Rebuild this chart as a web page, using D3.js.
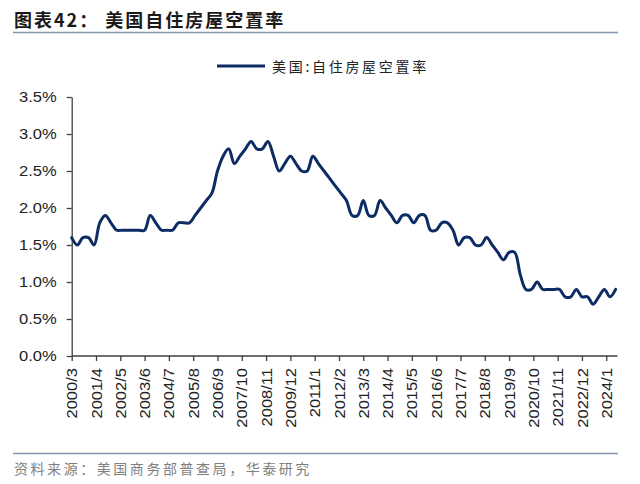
<!DOCTYPE html>
<html>
<head>
<meta charset="utf-8">
<script src="https://cdn.jsdelivr.net/npm/d3@7"></script>
<style>
  html, body { margin: 0; padding: 0; background: #ffffff; }
  svg { display: block; }
</style>
</head>
<body>
<div id="chart"></div>
<script>
// ---------------- data ----------------
const titleText = "图表42： 美国自住房屋空置率";
const seriesName = "美国:自住房屋空置率";
const sourceText = "资料来源：美国商务部普查局，华泰研究";

const periods = [
  "2000/3","2000/6","2000/9","2000/12",
  "2001/3","2001/6","2001/9","2001/12",
  "2002/3","2002/6","2002/9","2002/12",
  "2003/3","2003/6","2003/9","2003/12",
  "2004/3","2004/6","2004/9","2004/12",
  "2005/3","2005/6","2005/9","2005/12",
  "2006/3","2006/6","2006/9","2006/12",
  "2007/3","2007/6","2007/9","2007/12",
  "2008/3","2008/6","2008/9","2008/12",
  "2009/3","2009/6","2009/9","2009/12",
  "2010/3","2010/6","2010/9","2010/12",
  "2011/3","2011/6","2011/9","2011/12",
  "2012/3","2012/6","2012/9","2012/12",
  "2013/3","2013/6","2013/9","2013/12",
  "2014/3","2014/6","2014/9","2014/12",
  "2015/3","2015/6","2015/9","2015/12",
  "2016/3","2016/6","2016/9","2016/12",
  "2017/3","2017/6","2017/9","2017/12",
  "2018/3","2018/6","2018/9","2018/12",
  "2019/3","2019/6","2019/9","2019/12",
  "2020/3","2020/6","2020/9","2020/12",
  "2021/3","2021/6","2021/9","2021/12",
  "2022/3","2022/6","2022/9","2022/12",
  "2023/3","2023/6","2023/9","2023/12",
  "2024/3","2024/6"
];

const vacancyRate = [
  1.6, 1.5, 1.6, 1.6,
  1.5, 1.8, 1.9, 1.8,
  1.7, 1.7, 1.7, 1.7,
  1.7, 1.7, 1.9, 1.8,
  1.7, 1.7, 1.7, 1.8,
  1.8, 1.8, 1.9, 2.0,
  2.1, 2.2, 2.5, 2.7,
  2.8, 2.6, 2.7, 2.8,
  2.9, 2.8, 2.8, 2.9,
  2.7, 2.5, 2.6, 2.7,
  2.6, 2.5, 2.5, 2.7,
  2.6, 2.5, 2.4, 2.3,
  2.2, 2.1, 1.9, 1.9,
  2.1, 1.9, 1.9, 2.1,
  2.0, 1.9, 1.8, 1.9,
  1.9, 1.8, 1.9, 1.9,
  1.7, 1.7, 1.8, 1.8,
  1.7, 1.5, 1.6, 1.6,
  1.5, 1.5, 1.6, 1.5,
  1.4, 1.3, 1.4, 1.4,
  1.1, 0.9, 0.9, 1.0,
  0.9, 0.9, 0.9, 0.9,
  0.8, 0.8, 0.9, 0.8,
  0.8, 0.7, 0.8, 0.9,
  0.8, 0.9
];

const xTickLabels = [
  "2000/3","2001/4","2002/5","2003/6","2004/7","2005/8","2006/9","2007/10",
  "2008/11","2009/12","2011/1","2012/2","2013/3","2014/4","2015/5","2016/6",
  "2017/7","2018/8","2019/9","2020/10","2021/11","2022/12","2024/1"
];

const yTicks = [0, 0.5, 1.0, 1.5, 2.0, 2.5, 3.0, 3.5];

// ---------------- layout ----------------
const W = 640, H = 484;
const plot = { left: 71.7, right: 615.6, axisEnd: 617.5, top: 97, bottom: 356 };
const lineColor = "#0c2c63";
const ruleColor = "#8497b0";
const axisColor = "#404040";
const textColor = "#222222";
const latin = "'Liberation Sans', Arial, Helvetica, sans-serif";
const cjk = "'Noto Sans CJK SC', 'Noto Sans', sans-serif";
const stretch = 1.18;

// month index relative to the first period
const monthIndex = s => {
  const [yy, mm] = s.split("/").map(Number);
  return (yy - 2000) * 12 + (mm - 3);
};

const data = periods.map((p, i) => ({ idx: monthIndex(p), v: vacancyRate[i] }));

const svg = d3.select("#chart").append("svg")
  .attr("width", W).attr("height", H)
  .attr("viewBox", `0 0 ${W} ${H}`);

svg.append("rect").attr("width", W).attr("height", H).attr("fill", "#ffffff");

// title
svg.append("text")
  .attr("x", 14).attr("y", 27)
  .attr("font-family", cjk).attr("font-weight", 700)
  .attr("font-size", 18).attr("letter-spacing", 2.0)
  .attr("fill", "#1a1a1a")
  .style("white-space", "pre")
  .text(titleText);

svg.append("line")
  .attr("x1", 13).attr("x2", 618).attr("y1", 32.5).attr("y2", 32.5)
  .attr("stroke", ruleColor).attr("stroke-width", 1.5);

// legend
svg.append("line")
  .attr("x1", 217).attr("x2", 265).attr("y1", 66).attr("y2", 66)
  .attr("stroke", lineColor).attr("stroke-width", 3);
svg.append("text")
  .attr("x", 272).attr("y", 71.5)
  .attr("font-family", cjk).attr("font-size", 14).attr("letter-spacing", 2.7)
  .attr("fill", textColor)
  .text(seriesName);

// scales
const lastIdx = monthIndex(periods[periods.length - 1]);
const x = d3.scaleLinear().domain([0, lastIdx]).range([plot.left, plot.right]);
const y = d3.scaleLinear().domain([0, 3.5]).range([plot.bottom, plot.top]);

// y axis
const yAxis = d3.axisLeft(y)
  .tickValues(yTicks)
  .tickFormat(d => d.toFixed(1) + "%")
  .tickSize(5).tickPadding(10).tickSizeOuter(0);
const gy = svg.append("g").attr("transform", `translate(${plot.left},0)`).call(yAxis);
gy.select(".domain").attr("stroke", axisColor).attr("stroke-width", 1.3);
gy.selectAll(".tick line").attr("stroke", axisColor).attr("stroke-width", 1.3);
gy.selectAll(".tick text")
  .attr("font-family", latin).attr("font-size", 14).attr("fill", textColor);

// x axis
const xTickIdx = xTickLabels.map(monthIndex);
const xAxis = d3.axisBottom(x)
  .tickValues(xTickIdx)
  .tickFormat((d, i) => xTickLabels[i])
  .tickSize(5).tickPadding(7).tickSizeOuter(0);
const gx = svg.append("g").attr("transform", `translate(0,${plot.bottom})`).call(xAxis);
gx.select(".domain").remove();
gx.append("line")
  .attr("x1", plot.left).attr("x2", plot.axisEnd).attr("y1", 0).attr("y2", 0)
  .attr("stroke", axisColor).attr("stroke-width", 1.3);
gx.selectAll(".tick line").attr("stroke", axisColor).attr("stroke-width", 1.3);
gx.selectAll(".tick text")
  .attr("font-family", latin).attr("font-size", 14).attr("fill", textColor)
  .attr("text-anchor", "end")
  .attr("transform", "rotate(-90)")
  .attr("x", -12).attr("y", 0).attr("dy", "0.36em");

// widen glyphs a bit, like the reference's rendering
svg.selectAll(".tick text").each(function () {
  const len = this.getComputedTextLength();
  d3.select(this).attr("textLength", len * stretch).attr("lengthAdjust", "spacingAndGlyphs");
});

// series line
const line = d3.line()
  .x(d => x(d.idx))
  .y(d => y(d.v))
  .curve(d3.curveCatmullRom.alpha(0.5));

svg.append("path")
  .datum(data)
  .attr("fill", "none")
  .attr("stroke", lineColor)
  .attr("stroke-width", 3)
  .attr("stroke-linejoin", "round")
  .attr("stroke-linecap", "round")
  .attr("d", line);

// footer
svg.append("line")
  .attr("x1", 13).attr("x2", 618).attr("y1", 453.5).attr("y2", 453.5)
  .attr("stroke", ruleColor).attr("stroke-width", 1.5);
svg.append("text")
  .attr("x", 14).attr("y", 474)
  .attr("font-family", cjk).attr("font-size", 14).attr("letter-spacing", 2.55)
  .attr("fill", "#7f7f7f")
  .text(sourceText);
</script>
</body>
</html>
